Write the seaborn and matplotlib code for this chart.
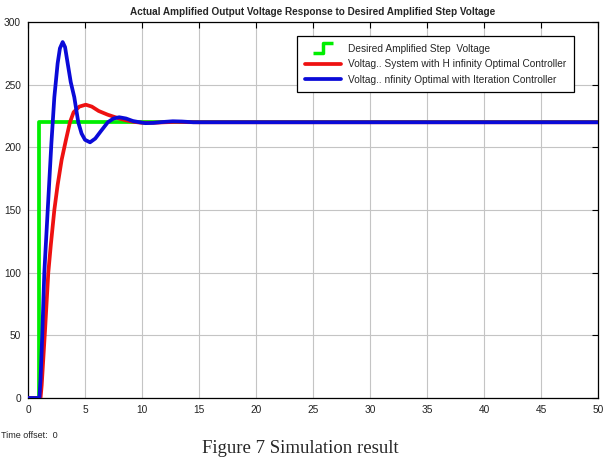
import matplotlib
matplotlib.use("Agg")
import matplotlib.pyplot as plt
from matplotlib.lines import Line2D
from matplotlib.path import Path
import seaborn as sns
import pandas as pd

# ---- data ----
step_t = [0, 1.0, 1.0, 50]
step_v = [0, 0, 220, 220]

hinf_t = [0, 1.1, 1.2, 1.5, 1.78, 2.0, 2.31, 2.6, 2.95, 3.33, 3.68, 4.0, 4.5, 5.07,
          5.6, 6.2, 7.0, 7.5, 8.0, 8.6, 9.3, 10.0, 11.0, 12.0, 13.0, 14.0, 15.0, 50]
hinf_v = [0, 0, 10, 55, 100, 122, 150, 170, 190, 206, 220, 228, 232.5, 234,
          232.5, 229, 226, 224.5, 223, 221.5, 220.3, 219.6, 219.6, 220, 220.3, 220.1, 220, 220]

iter_t = [0, 1.0, 1.1, 1.25, 1.43, 1.73, 2.05, 2.31, 2.6, 2.8, 3.04, 3.25, 3.48, 3.75,
          4.06, 4.41, 4.7, 5.0, 5.44, 5.9, 6.4, 7.0, 7.5, 8.0, 8.6, 9.2, 9.8, 10.3,
          11.0, 11.8, 12.7, 13.5, 14.5, 50]
iter_v = [0, 0, 15, 50, 100, 150, 203, 240, 267, 279, 284, 280, 267, 252,
          240, 220, 211, 206, 204, 207, 213, 220, 223, 224, 223, 221, 220, 219.3,
          219.5, 220.2, 220.8, 220.6, 220, 220]

labels = ["Desired Amplified Step  Voltage",
          "Voltag.. System with H infinity Optimal Controller",
          "Voltag.. nfinity Optimal with Iteration Controller"]
title = "Actual Amplified Output Voltage Response to Desired Amplified Step Voltage"
xticks = [0, 5, 10, 15, 20, 25, 30, 35, 40, 45, 50]
yticks = [0, 50, 100, 150, 200, 250, 300]

sns.set_style("white")
plt.rcParams["font.family"] = ["Liberation Sans", "DejaVu Sans"]

fig = plt.figure(figsize=(6.08, 4.58), dpi=100)
ax = fig.add_axes([28/608, 1-398/458, 570/608, 376/458])

c_green = "#00ee00"
c_red = "#ee1111"
c_blue = "#0a0ad8"

df_s = pd.DataFrame({"t": step_t, "v": step_v})
df_h = pd.DataFrame({"t": hinf_t, "v": hinf_v})
df_i = pd.DataFrame({"t": iter_t, "v": iter_v})

sns.lineplot(data=df_s, x="t", y="v", ax=ax, color=c_green, lw=2.7,
             estimator=None, sort=False, zorder=3)
sns.lineplot(data=df_h, x="t", y="v", ax=ax, color=c_red, lw=2.7,
             estimator=None, sort=False, zorder=4)
sns.lineplot(data=df_i, x="t", y="v", ax=ax, color=c_blue, lw=2.7,
             estimator=None, sort=False, zorder=5)

ax.set_xlim(0, 50)
ax.set_ylim(0, 300)
ax.set_xticks(xticks)
ax.set_yticks(yticks)
ax.set_xlabel("")
ax.set_ylabel("")
ax.grid(True, color="#c4c4c4", lw=0.8)
ax.tick_params(direction="in", length=4, width=0.8, top=True, right=True,
               labelsize=7.3, colors="black", labelcolor="#222222", pad=5)
for s in ax.spines.values():
    s.set_color("black")
    s.set_linewidth(0.9)

ax.set_title(title, fontsize=7.2, fontweight="bold", pad=5)

step_path = Path([(-1.0, -0.5), (0.0, -0.5), (0.0, 0.5), (1.0, 0.5)],
                 [Path.MOVETO, Path.LINETO, Path.LINETO, Path.LINETO])
handles = [
    Line2D([], [], marker=step_path, linestyle="None", markersize=14,
           markerfacecolor="none", markeredgecolor=c_green, markeredgewidth=2.5),
    Line2D([], [], color=c_red, lw=2.7),
    Line2D([], [], color=c_blue, lw=2.7),
]
leg = ax.legend(handles, labels, loc="upper left", bbox_to_anchor=(0.472, 0.963),
                fontsize=7.3, frameon=True, fancybox=False, framealpha=1,
                edgecolor="black", handlelength=3.6, handletextpad=0.7,
                borderpad=0.75, labelspacing=0.55, borderaxespad=0)
leg.get_frame().set_linewidth(0.9)

fig.text(0.002, 1-436/458, "Time offset:  0", fontsize=6.5, ha="left", va="center")
fig.text(300/608, 0.002, "Figure 7 Simulation result", fontsize=13.5,
         family=["Liberation Serif", "DejaVu Serif"], ha="center", va="bottom")

fig.savefig("out.png", dpi=100)
